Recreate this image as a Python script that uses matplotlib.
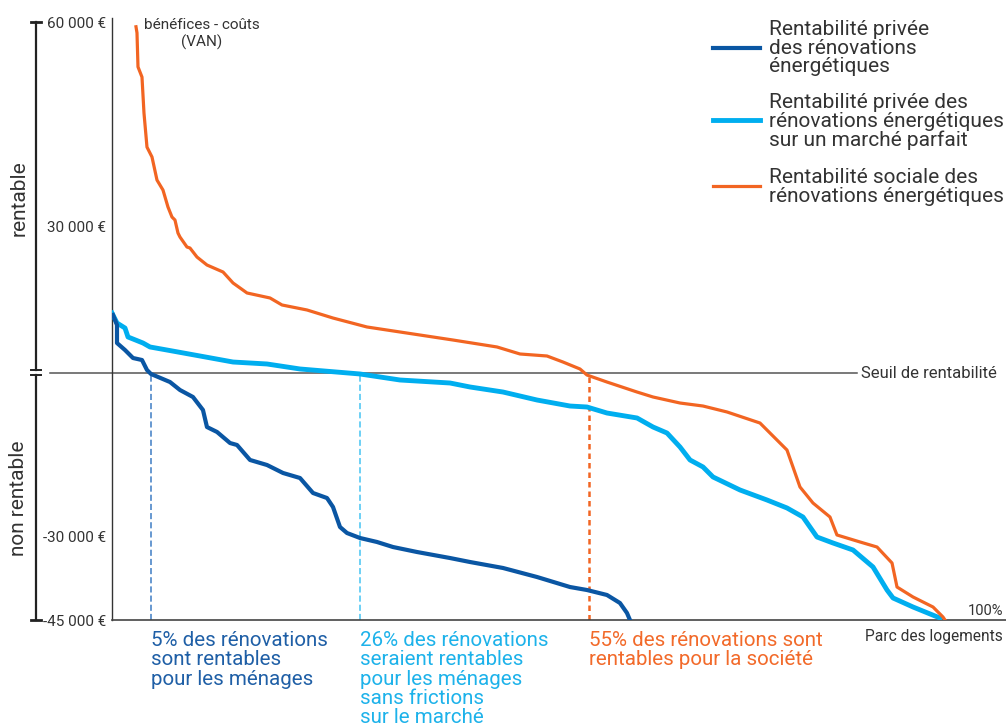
import numpy as np
import matplotlib
matplotlib.use("Agg")
import matplotlib.pyplot as plt
import matplotlib.transforms as mtransforms
from matplotlib.lines import Line2D

plt.rcParams['font.family'] = ['Roboto', 'DejaVu Sans']

# part du parc des logements (%) -> VAN (€)
prive_x = [0.12, 0.60, 0.60, 1.56, 2.52, 3.60, 4.20, 4.68, 6.96, 8.16, 9.72, 10.92, 11.40, 12.61,
           14.17, 15.01, 16.57, 18.61, 20.53, 22.57, 24.13, 25.81, 26.53, 27.37, 28.21, 29.77,
           31.81, 33.73, 36.61, 40.58, 42.98, 46.94, 51.02, 54.98, 57.02, 59.42, 60.98, 61.82, 62.18]
prive_y = [11840, 9800, 6120, 4690, 3060, 2650, 610, -180, -1650, -3110, -4390, -6770, -9880, -10790,
           -12810, -13170, -15910, -16830, -18290, -19210, -21950, -22870, -24510, -28170, -29270, -30180,
           -30900, -31810, -32710, -33800, -34520, -35600, -37230, -39040, -39580, -40480, -41930, -43730, -45000]

parfait_x = [0.0, 0.60, 1.56, 1.92, 3.72, 4.56, 6.60, 10.56, 14.53, 16.57, 18.61, 22.57, 29.77,
             34.57, 40.58, 42.98, 46.94, 51.02, 54.98, 57.02, 59.42, 63.03, 64.95, 66.63, 68.19,
             69.39, 70.95, 72.15, 75.39, 78.63, 81.03, 82.95, 84.63, 86.55, 88.96, 91.36, 93.04,
             93.76, 96.16, 99.40]
parfait_y = [12240, 10200, 9180, 7350, 6120, 5310, 4690, 3470, 2240, 2040, 1840, 820, -180,
             -1280, -1830, -2560, -3480, -4940, -6040, -6220, -7320, -8230, -9880, -10980, -13540,
             -15910, -17190, -19020, -21400, -23230, -24690, -26340, -30000, -31080, -32350, -35420, -39580,
             -41020, -42650, -44640]

social_x = [2.88, 3.00, 3.12, 3.60, 3.84, 4.20, 4.80, 5.40, 6.12, 6.72, 7.20, 7.56, 7.92, 8.16,
            9.00, 9.36, 10.20, 11.40, 13.33, 14.53, 16.21, 18.97, 20.41, 23.41, 26.53, 30.61, 34.57,
            40.94, 46.22, 48.98, 52.22, 54.14, 56.18, 57.02, 59.42, 63.03, 64.95, 68.19, 70.95,
            73.83, 77.79, 78.99, 81.03, 81.75, 82.59, 84.15, 86.19, 87.03, 89.80, 91.84, 93.64,
            94.24, 96.16, 98.56, 99.76, 100.0]
social_y = [59300, 58400, 53400, 51900, 46600, 41600, 40150, 36760, 35290, 32790, 31320, 30880, 28570, 27750,
            25710, 25510, 23670, 22040, 20610, 18370, 16330, 15310, 13880, 12860, 11220, 9390, 8370,
            6730, 5310, 3880, 3470, 2240, 820, -370, -1650, -3480, -4390, -5490, -6040,
            -7130, -9150, -10980, -14090, -17200, -20850, -23780, -26340, -29630, -30900, -31810, -34700,
            -39040, -40840, -42650, -44460, -45000]

seuil_x = [4.7, 29.8, 57.3]
seuil_labels = ["5% des rénovations\nsont rentables\npour les ménages",
                "26% des rénovations\nseraient rentables\npour les ménages\nsans frictions\nsur le marché",
                "55% des rénovations sont\nrentables pour la société"]
legend_labels = ["Rentabilité privée\ndes rénovations\nénergétiques",
                 "Rentabilité privée des\nrénovations énergétiques\nsur un marché parfait",
                 "Rentabilité sociale des\nrénovations énergétiques"]
yticks = [-45000, -30000, 30000, 60000]
ytick_labels = ["-45 000 €", "-30 000 €", "30 000 €", "60 000 €"]

c_prive = '#0a56a3'
c_parfait = '#00aeef'
c_social = '#f26522'
txt = '#333333'

# axe vertical non linéaire (échelle du graphique d'origine)
knots_v = [-200000, -45000, -30000, 0, 30000, 60000, 200000]
knots_p = [-857.7, 0, 83, 247, 394, 598, 1550]


def fwd(v):
    return np.interp(v, knots_v, knots_p)


def inv(p):
    return np.interp(p, knots_p, knots_v)


W, H = 1006, 727
fig = plt.figure(figsize=(W / 100, H / 100), dpi=100)
ax = fig.add_axes([112 / W, (H - 620) / H, (W - 112) / W, 602 / H])
ax.set_yscale('function', functions=(fwd, inv))
ax.set_xlim(0, (W - 112) / 8.33)
ax.set_ylim(-45000, inv(602))

ax.plot(prive_x, prive_y, color=c_prive, lw=3.0, solid_joinstyle='round', zorder=4)
ax.plot(parfait_x, parfait_y, color=c_parfait, lw=3.5, solid_joinstyle='round', zorder=3)
ax.plot(social_x, social_y, color=c_social, lw=2.3, solid_joinstyle='round', zorder=3)

# seuil de rentabilité
ax.plot([-7.44, 89.4], [0, 0], color='#555555', lw=1.1, clip_on=False, zorder=2)
ax.text(89.9, 0, "Seuil de rentabilité", fontsize=12, color=txt, va='center', ha='left')

dash_cols = ['#3d7cc4', '#45c3f2', c_social]
dash_styles = [(0, (4, 2)), (0, (4, 2)), (0, (2.2, 1.6))]
dash_lw = [1.1, 1.1, 1.8]
for xs, col, ls, lw in zip(seuil_x, dash_cols, dash_styles, dash_lw):
    ax.plot([xs, xs], [-45000, 0], color=col, ls=ls, lw=lw, zorder=2)

txt_cols = ['#1f5fa6', '#1db2ea', '#f26a2a']
blend = mtransforms.blended_transform_factory(ax.transData, fig.transFigure)
for xs, lab, col in zip(seuil_x, seuil_labels, txt_cols):
    ax.text(xs, 1 - 631 / H, lab, transform=blend, fontsize=14.8, color=col,
            ha='left', va='top', linespacing=1.02)

ax.set_yticks(yticks)
ax.set_yticklabels(ytick_labels)
ax.set_xticks([])
ax.tick_params(axis='y', length=0, pad=4, labelsize=11, labelcolor=txt)
for s in ['top', 'right']:
    ax.spines[s].set_visible(False)
ax.spines['left'].set_color('#333333')
ax.spines['left'].set_linewidth(1.0)
ax.spines['bottom'].set_color('#444444')
ax.spines['bottom'].set_linewidth(1.2)

fig.text(202 / W, 1 - 18 / H, "bénéfices - coûts\n(VAN)", fontsize=11, color=txt,
         ha='center', va='top', linespacing=1.25)
fig.text(1003 / W, 1 - 611 / H, "100%", fontsize=10.5, color=txt, ha='right', va='center')
fig.text(1003 / W, 1 - 637 / H, "Parc des logements", fontsize=11.2, color=txt, ha='right', va='center')

# légende
leg_y = [48, 120, 186]
leg_top = [20, 93, 168]
leg_cols = [c_prive, c_parfait, c_social]
leg_lw = [3.0, 3.5, 2.3]
for ly, lt, lab, col, lw in zip(leg_y, leg_top, legend_labels, leg_cols, leg_lw):
    fig.add_artist(Line2D([713 / W, 760 / W], [1 - ly / H, 1 - ly / H], color=col, lw=lw,
                          transform=fig.transFigure))
    fig.text(769 / W, 1 - lt / H, lab, fontsize=15, color=txt, ha='left', va='top', linespacing=0.98)


# accolade gauche rentable / non rentable
def fl(x0, y0, x1, y1, lw=1.6):
    fig.add_artist(Line2D([x0 / W, x1 / W], [1 - y0 / H, 1 - y1 / H], color='#222222', lw=lw,
                          transform=fig.transFigure))


fl(36, 22, 36, 370)
fl(36, 375, 36, 620)
fl(31, 22, 41, 22, lw=2)
fl(31, 620, 41, 620, lw=2)
fl(31, 370, 41, 370, lw=1.4)
fl(31, 375, 41, 375, lw=1.4)
fig.text(19 / W, 1 - 198 / H, "rentable", fontsize=15, color=txt, rotation=90, ha='center', va='center')
fig.text(19 / W, 1 - 498 / H, "non rentable", fontsize=15, color=txt, rotation=90, ha='center', va='center')

fig.savefig("out.png", dpi=100)
